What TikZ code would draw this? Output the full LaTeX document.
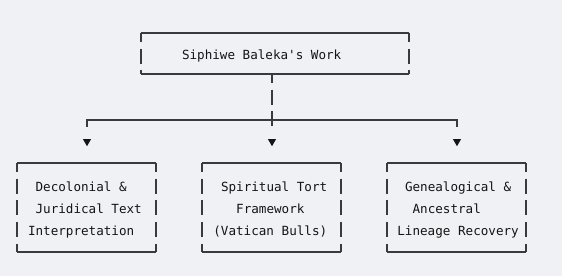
\documentclass[tikz,border=0pt]{standalone}
\usepackage{fontspec}
\setmonofont{DejaVu Sans Mono}
\usetikzlibrary{shapes.geometric}
\definecolor{bg}{HTML}{F0F1F5}
\definecolor{ln}{HTML}{3A3A3A}
\definecolor{tx}{HTML}{141414}
\begin{document}
\begin{tikzpicture}[x=1pt,y=-1pt,
  boxn/.style={rectangle,draw=none,inner sep=0pt,outer sep=0pt},
  hl/.style={draw=ln,line width=1.1pt},
  vl/.style={draw=ln,line width=1.1pt,dash pattern=on 15pt off 6.7pt,dash phase=6pt},
  txt/.style={anchor=base west,inner sep=0pt,outer sep=0pt,text=tx,font=\ttfamily\fontsize{12.6}{15}\selectfont},
  tri/.style={regular polygon,regular polygon sides=3,shape border rotate=180,fill=tx,draw=none,inner sep=0pt,outer sep=0pt,minimum size=9.4pt}]
\fill[bg] (0,0) rectangle (562,276);
\useasboundingbox (0,0) rectangle (562,276);
% boxes
\node[boxn,minimum width=268pt,minimum height=41pt] (top) at (275,53.5) {};
\node[boxn,minimum width=139pt,minimum height=89pt] (b1) at (86.5,207.5) {};
\node[boxn,minimum width=139pt,minimum height=89pt] (b2) at (271.5,207.5) {};
\node[boxn,minimum width=139pt,minimum height=89pt] (b3) at (456.5,207.5) {};
\foreach \b in {top,b1,b2,b3}{
  \draw[hl] (\b.north west) -- (\b.north east);
  \draw[hl] (\b.south west) -- (\b.south east);
  \draw[vl] (\b.north west) -- (\b.south west);
  \draw[vl] (\b.north east) -- (\b.south east);
}
% texts
\node[txt] (t0) at (182,59) {Siphiwe Baleka's Work};
\node[txt] (t11) at (35.6,191) {Decolonial \&};
\node[txt] (t12) at (35.6,213) {Juridical Text};
\node[txt] (t13) at (28,235) {Interpretation};
\node[txt] (t21) at (221,191) {Spiritual Tort};
\node[txt] (t22) at (236.2,213) {Framework};
\node[txt] (t23) at (213.4,235) {(Vatican Bulls)};
\node[txt] (t31) at (405,191) {Genealogical \&};
\node[txt] (t32) at (412.6,213) {Ancestral};
\node[txt] (t33) at (397.4,235) {Lineage Recovery};
% connectors
\coordinate (s0) at (272,74);
\coordinate (j) at (272,120);
\coordinate (cL) at (87,120);
\coordinate (cR) at (457,120);
\coordinate (eL) at (87,127);
\coordinate (eM) at (272,127);
\coordinate (eR) at (457,127);
\draw[vl] (s0) -- (eM);
\draw[hl] (eL) -- (cL) -- (cR) -- (eR);
% arrowheads
\node[tri] (aL) at (87,141.5) {};
\node[tri] (aM) at (272,141.5) {};
\node[tri] (aR) at (457,141.5) {};
\end{tikzpicture}
\end{document}
